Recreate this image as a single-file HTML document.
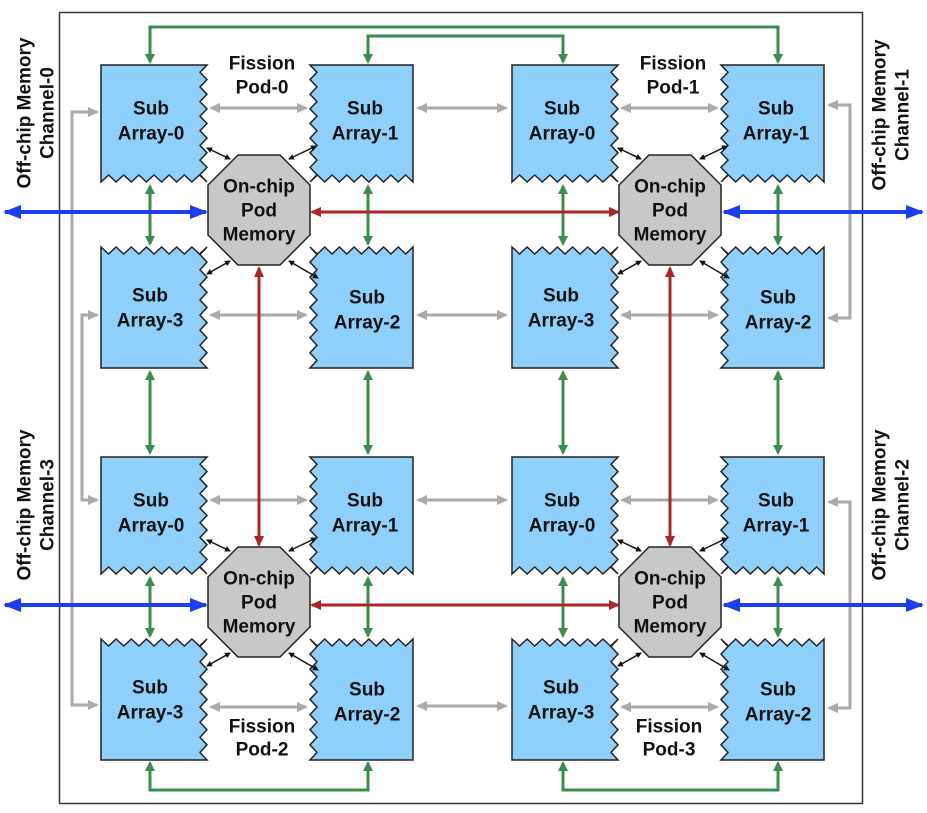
<!DOCTYPE html>
<html><head><meta charset="utf-8"><style>
html,body{margin:0;padding:0;background:#fff}
svg{display:block}
text{font-family:"Liberation Sans",sans-serif;font-weight:bold;font-size:19px;text-anchor:middle;dominant-baseline:central;fill:#111}
</style></head><body>
<svg id="s" width="927" height="813" viewBox="0 0 927 813" xmlns="http://www.w3.org/2000/svg">
<defs>
<marker id="mg" markerWidth="10" markerHeight="10" refX="8" refY="5" orient="auto-start-reverse" markerUnits="userSpaceOnUse"><path d="M0,0 L10,5 L0,10 Z" fill="#3c8c50"/></marker>
<marker id="mr" markerWidth="11" markerHeight="10" refX="9" refY="5" orient="auto-start-reverse" markerUnits="userSpaceOnUse"><path d="M0,0 L11,5 L0,10 Z" fill="#a82828"/></marker>
<marker id="mb" markerWidth="18" markerHeight="14" refX="16" refY="7" orient="auto-start-reverse" markerUnits="userSpaceOnUse"><path d="M0,0 L18,7 L0,14 Z" fill="#1a3ef0"/></marker>
<marker id="my" markerWidth="11" markerHeight="10" refX="9" refY="5" orient="auto-start-reverse" markerUnits="userSpaceOnUse"><path d="M0,0 L11,5 L0,10 Z" fill="#aaa"/></marker>
<marker id="mk" markerWidth="6" markerHeight="6" refX="5" refY="3" orient="auto-start-reverse" markerUnits="userSpaceOnUse"><path d="M0,0 L6,3 L0,6 Z" fill="#111"/></marker>
</defs>
<rect x="59.5" y="12.5" width="803" height="791" fill="none" stroke="#333" stroke-width="1.5"/>
<g id="g"></g>
<g id="t">
<text x="151" y="109">Sub</text><text x="151" y="134">Array-0</text>
<text x="365" y="109">Sub</text><text x="365" y="134">Array-1</text>
<text x="150" y="296">Sub</text><text x="150" y="321">Array-3</text>
<text x="367" y="298">Sub</text><text x="367" y="323">Array-2</text>
<text x="259" y="187">On-chip</text><text x="259" y="211">Pod</text><text x="259" y="235">Memory</text>
<text x="262" y="64">Fission</text><text x="262" y="88">Pod-0</text>
<text x="562" y="109">Sub</text><text x="562" y="134">Array-0</text>
<text x="776" y="109">Sub</text><text x="776" y="134">Array-1</text>
<text x="561" y="296">Sub</text><text x="561" y="321">Array-3</text>
<text x="778" y="298">Sub</text><text x="778" y="323">Array-2</text>
<text x="670" y="187">On-chip</text><text x="670" y="211">Pod</text><text x="670" y="235">Memory</text>
<text x="673" y="64">Fission</text><text x="673" y="88">Pod-1</text>
<text x="151" y="501">Sub</text><text x="151" y="526">Array-0</text>
<text x="365" y="501">Sub</text><text x="365" y="526">Array-1</text>
<text x="150" y="688">Sub</text><text x="150" y="713">Array-3</text>
<text x="367" y="690">Sub</text><text x="367" y="715">Array-2</text>
<text x="259" y="579">On-chip</text><text x="259" y="603">Pod</text><text x="259" y="627">Memory</text>
<text x="262" y="727">Fission</text><text x="262" y="750">Pod-2</text>
<text x="562" y="501">Sub</text><text x="562" y="526">Array-0</text>
<text x="776" y="501">Sub</text><text x="776" y="526">Array-1</text>
<text x="561" y="688">Sub</text><text x="561" y="713">Array-3</text>
<text x="778" y="690">Sub</text><text x="778" y="715">Array-2</text>
<text x="670" y="579">On-chip</text><text x="670" y="603">Pod</text><text x="670" y="627">Memory</text>
<text x="669" y="727">Fission</text><text x="669" y="750">Pod-3</text>
<text transform="translate(25,113) rotate(-90)">Off-chip Memory</text>
<text transform="translate(48,113) rotate(-90)">Channel-0</text>
<text transform="translate(25,505) rotate(-90)">Off-chip Memory</text>
<text transform="translate(48,505) rotate(-90)">Channel-3</text>
<text transform="translate(880,115) rotate(-90)">Off-chip Memory</text>
<text transform="translate(903,115) rotate(-90)">Channel-1</text>
<text transform="translate(880,505) rotate(-90)">Off-chip Memory</text>
<text transform="translate(903,505) rotate(-90)">Channel-2</text>
</g>
</svg>
<script>
var NS="http://www.w3.org/2000/svg",g=document.getElementById('g'),t=document.getElementById('t');
function el(n,a,p){var e=document.createElementNS(NS,n);for(var k in a)e.setAttribute(k,a[k]);(p||g).appendChild(e);return e;}
var A=7,P=15;
function zig(x1,y1,x2,y2,inward){
  var pts=[],len=Math.hypot(x2-x1,y2-y1),n=Math.max(2,Math.round(len/P)*2),dx=(x2-x1)/n,dy=(y2-y1)/n;
  for(var i=1;i<=n;i++){var o=(i%2)?A:0;pts.push((x1+dx*i+inward[0]*o).toFixed(1)+","+(y1+dy*i+inward[1]*o).toFixed(1));}
  return pts;}
function box(L,R,T,B,zs){
  var pts=[L+","+T];
  if(zs.indexOf('t')>=0)pts=pts.concat(zig(L,T,R,T,[0,1]));else pts.push(R+","+T);
  if(zs.indexOf('r')>=0)pts=pts.concat(zig(R,T,R,B,[-1,0]));else pts.push(R+","+B);
  if(zs.indexOf('b')>=0)pts=pts.concat(zig(R,B,L,B,[0,-1]));else pts.push(L+","+B);
  if(zs.indexOf('l')>=0)pts=pts.concat(zig(L,B,L,T,[1,0]));
  el('polygon',{points:pts.join(' '),fill:'#8fd0fa',stroke:'#222','stroke-width':1.5});
}
function oct(x0,y0,w,h,c){
  el('polygon',{points:[[x0+c,y0],[x0+w-c,y0],[x0+w,y0+c],[x0+w,y0+h-c],[x0+w-c,y0+h],[x0+c,y0+h],[x0,y0+h-c],[x0,y0+c]].map(function(p){return p.join(',')}).join(' '),fill:'#c8c8c8',stroke:'#222','stroke-width':1.5});
}
function ln(d,col,m,w){return el('path',{d:d,fill:'none',stroke:col,'stroke-width':w,'marker-end':'url(#'+m+')','marker-start':'url(#'+m+')'});}
var GR='#3c8c50',RD='#a82828',BL='#1a3ef0',GY='#aaa';
[[0,0],[411,0],[0,392],[411,392]].forEach(function(o){var x=o[0],y=o[1];
  ln('M'+(211+x)+','+(108+y)+' H'+(306+x),GY,'my',3);
  ln('M'+(211+x)+','+(315+y)+' H'+(306+x),GY,'my',3);
});
[108,315,500,706].forEach(function(y){ln('M418,'+y+' H506',GY,'my',3);});
ln('M97,112 H72 V705 H97',GY,'my',3);
ln('M97,315 H82 V500 H97',GY,'my',3);
ln('M829,105 H850 V318 H829',GY,'my',3);
ln('M829,502 H850 V708 H829',GY,'my',3);
[150,368,563,778].forEach(function(x){
  ln('M'+x+',186 V244',GR,'mg',3);ln('M'+x+',372 V453',GR,'mg',3);ln('M'+x+',578 V636',GR,'mg',3);
});
ln('M150,62 V27 H778 V62',GR,'mg',3);
ln('M368,62 V36 H563 V62',GR,'mg',3);
ln('M150,763 V790 H368 V763',GR,'mg',3);
ln('M563,763 V790 H778 V763',GR,'mg',3);
ln('M312,212 H618',RD,'mr',3);ln('M312,605 H618',RD,'mr',3);
ln('M259,268 V545',RD,'mr',3);ln('M670,268 V545',RD,'mr',3);
ln('M5,212 H206',BL,'mb',4);ln('M724,212 H922',BL,'mb',4);
ln('M5,605 H206',BL,'mb',4);ln('M724,605 H922',BL,'mb',4);
[[0,0],[411,0],[0,392],[411,392]].forEach(function(o){var x=o[0],y=o[1];
  box(101+x,207+x,65+y,182+y,'rb');
  box(310+x,413+x,65+y,182+y,'lb');
  box(101+x,207+x,247+y,368+y,'tr');
  box(310+x,413+x,247+y,368+y,'tl');
  oct(208+x,155+y,102,110,30);
  var k=function(x1,y1,x2,y2){el('path',{d:'M'+(x1+x)+','+(y1+y)+' L'+(x2+x)+','+(y2+y),stroke:'#111','stroke-width':1.5,'marker-start':'url(#mk)','marker-end':'url(#mk)'});};
  k(207,148,230,159);k(289,159,316,146);k(207,274,230,261);k(289,261,318,278);
});
document.getElementById('s').appendChild(t);
</script>
</body></html>
